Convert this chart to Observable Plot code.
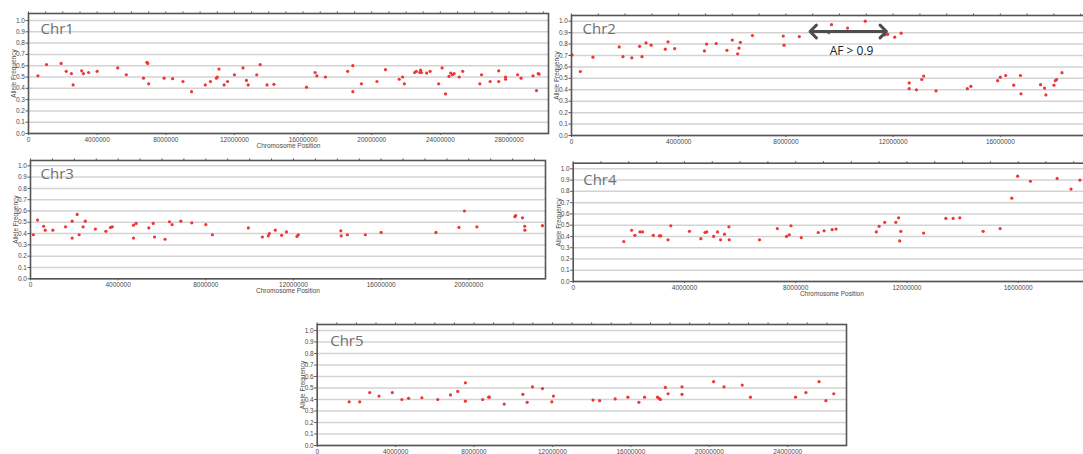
<!DOCTYPE html>
<html>
<head>
<meta charset="utf-8">
<script src="https://cdn.jsdelivr.net/npm/d3@7"></script>
<script src="https://cdn.jsdelivr.net/npm/@observablehq/plot@0.6"></script>
<style>
  html, body { margin: 0; padding: 0; background: #fff; overflow: hidden; width: 1083px; height: 454px; }
  #root { position: relative; width: 1083px; height: 454px; overflow: hidden; background: #fff; }
  .panel { position: absolute; }
  .panel svg { overflow: visible; }
</style>
</head>
<body>
<div id="root"></div>
<script>
// ---------- data (positions in Mb, allele frequencies) ----------
const yTicks = [0, 0.1, 0.2, 0.3, 0.4, 0.5, 0.6, 0.7, 0.8, 0.9, 1.0];

const chr1Name = "Chr1";
const chr1Ticks = [0, 4000000, 8000000, 12000000, 16000000, 20000000, 24000000, 28000000];
const chr1Pos = [0.55,1.05,1.9,2.2,2.5,2.6,3.1,3.2,3.5,4.0,5.2,5.7,6.7,6.9,6.95,7.0,7.9,8.4,9.0,9.5,10.3,10.6,10.95,11.0,11.1,11.4,11.6,12.0,12.5,12.7,12.8,13.3,13.5,13.9,14.3,16.2,16.7,16.8,17.3,18.6,18.9,18.9,19.4,20.3,20.8,21.6,21.8,21.9,22.5,22.6,22.8,22.85,22.9,23.2,23.4,23.9,24.1,24.3,24.5,24.6,24.7,24.8,25.1,25.3,26.3,26.4,26.9,27.4,27.4,27.8,27.8,28.5,28.7,29.4,29.6,29.7,29.75];
const chr1AF  = [0.51,0.61,0.62,0.55,0.53,0.43,0.555,0.53,0.54,0.55,0.58,0.52,0.49,0.63,0.62,0.44,0.49,0.485,0.46,0.37,0.43,0.46,0.49,0.50,0.57,0.43,0.46,0.52,0.58,0.47,0.43,0.52,0.61,0.43,0.435,0.41,0.54,0.51,0.50,0.55,0.60,0.37,0.44,0.46,0.565,0.48,0.50,0.44,0.54,0.55,0.54,0.56,0.54,0.535,0.55,0.44,0.58,0.35,0.505,0.535,0.52,0.53,0.50,0.55,0.44,0.52,0.46,0.555,0.46,0.50,0.48,0.52,0.49,0.51,0.38,0.53,0.525];

const chr2Name = "Chr2";
const chr2Ticks = [0, 4000000, 8000000, 12000000, 16000000];
const chr2Pos = [0.02,0.33,0.8,1.78,1.92,2.25,2.54,2.63,2.78,2.97,3.5,3.6,3.85,4.96,5.04,5.4,5.8,6.0,6.2,6.25,6.3,6.75,7.9,7.93,8.5,9.6,9.7,10.3,10.96,11.7,11.8,12.06,12.3,12.6,12.6,12.87,13.07,13.14,13.6,14.77,14.9,15.9,16.0,16.2,16.5,16.75,16.77,17.5,17.65,17.7,18.0,18.05,18.1,18.3];
const chr2AF  = [0.705,0.56,0.685,0.775,0.69,0.68,0.78,0.69,0.81,0.79,0.755,0.82,0.76,0.74,0.80,0.805,0.745,0.835,0.715,0.765,0.815,0.875,0.87,0.79,0.866,0.90,0.97,0.94,1.0,0.88,0.885,0.86,0.895,0.46,0.41,0.40,0.49,0.52,0.39,0.41,0.43,0.48,0.51,0.525,0.44,0.525,0.365,0.445,0.415,0.355,0.44,0.48,0.49,0.55];
// annotation on Chr2
const afArrowFrom = 8.9, afArrowTo = 11.75, afArrowLevel = 0.91;
const afLabel = "AF > 0.9", afLabelPos = 10.45, afLabelLevel = 0.74;

const chr3Name = "Chr3";
const chr3Ticks = [0, 4000000, 8000000, 12000000, 16000000, 20000000];
const chr3Pos = [0.13,0.32,0.6,0.67,1.02,1.6,1.9,1.9,2.13,2.22,2.4,2.5,2.96,3.44,3.65,3.73,4.7,4.7,4.82,5.4,5.6,5.66,6.14,6.34,6.46,6.86,7.36,8.0,8.3,9.94,10.58,10.85,10.9,11.17,11.46,11.68,12.16,12.22,14.16,14.18,14.46,15.28,16.0,18.5,19.55,19.8,20.37,22.1,22.14,22.45,22.55,22.56,23.36];
const chr3AF  = [0.39,0.52,0.465,0.43,0.43,0.46,0.51,0.36,0.57,0.39,0.46,0.51,0.44,0.42,0.455,0.46,0.475,0.36,0.49,0.45,0.49,0.37,0.35,0.505,0.48,0.51,0.495,0.48,0.39,0.45,0.37,0.38,0.40,0.43,0.385,0.415,0.375,0.39,0.425,0.38,0.39,0.39,0.41,0.41,0.455,0.60,0.46,0.55,0.56,0.54,0.465,0.43,0.47];

const chr4Name = "Chr4";
const chr4Ticks = [0, 4000000, 8000000, 12000000, 16000000];
const chr4Pos = [1.82,2.1,2.22,2.4,2.49,2.88,3.1,3.15,3.41,3.51,4.18,4.59,4.74,4.8,5.05,5.19,5.3,5.44,5.6,5.61,6.7,7.34,7.67,7.77,7.83,8.2,8.81,9.02,9.31,9.45,10.9,11.0,11.2,11.6,11.7,11.74,11.78,12.6,13.4,13.66,13.9,14.74,15.35,15.77,15.98,16.44,17.4,17.9,18.22];
const chr4AF  = [0.355,0.455,0.41,0.44,0.44,0.41,0.405,0.405,0.37,0.495,0.445,0.38,0.435,0.44,0.40,0.44,0.37,0.42,0.485,0.37,0.37,0.47,0.40,0.415,0.495,0.39,0.435,0.45,0.46,0.465,0.44,0.49,0.525,0.525,0.565,0.36,0.445,0.43,0.56,0.56,0.565,0.445,0.47,0.74,0.935,0.89,0.915,0.82,0.90];

const chr5Name = "Chr5";
const chr5Ticks = [0, 4000000, 8000000, 12000000, 16000000, 20000000, 24000000];
const chr5Pos = [1.63,2.17,2.68,3.15,3.83,4.32,4.66,5.34,6.15,6.8,7.17,7.56,7.56,8.44,8.75,8.78,9.54,10.49,10.71,10.98,11.49,11.97,12.05,14.07,14.41,15.2,15.85,16.41,16.7,17.36,17.44,17.51,17.76,17.9,18.61,18.61,20.22,20.75,21.68,22.1,24.4,24.93,25.6,25.95,26.35];
const chr5AF  = [0.38,0.38,0.46,0.43,0.46,0.40,0.41,0.415,0.40,0.44,0.47,0.545,0.385,0.40,0.42,0.42,0.36,0.445,0.375,0.51,0.495,0.38,0.43,0.395,0.39,0.405,0.42,0.375,0.42,0.42,0.41,0.40,0.505,0.45,0.51,0.445,0.555,0.51,0.525,0.42,0.42,0.46,0.555,0.39,0.45];

// ---------- drawing ----------
const root = document.getElementById("root");

function makePanel(cfg) {
  const data = cfg.pos.map((p, i) => ({pos: p * 1e6, af: cfg.af[i]}));
  const marks = [
    Plot.gridY(yTicks, {stroke: "#d3d3d3", strokeOpacity: 1, strokeWidth: 1.5}),
    Plot.axisX(d3.range(0, cfg.length * 1e6, 1e6), {anchor: "top", tickSize: 2.5, tickFormat: () => "", label: null, stroke: "#555"}),
    Plot.axisX(cfg.xTicks, {
      anchor: "bottom", tickSize: 2, tickPadding: 1.5, tickFormat: d => String(d),
      label: cfg.xLabel ? "Chromosome Position" : null, labelAnchor: "center", labelOffset: 14, labelArrow: "none",
      fontSize: 6.5, stroke: "#555"
    }),
    Plot.axisY(yTicks, {
      anchor: "left", tickSize: 2.5, tickPadding: 1, tickFormat: d => d.toFixed(1),
      label: "Allele Frequency", labelAnchor: "center", labelOffset: 17, labelArrow: "none",
      fontSize: 6.5, stroke: "#555"
    }),
    Plot.dot(data, {x: "pos", y: "af", r: 1.6, fill: "#f03535", stroke: "none"}),
    Plot.frame({stroke: "#555", strokeWidth: 1.6}),
    Plot.text([cfg.name], {
      frameAnchor: "top-left", dx: cfg.nameDx, dy: cfg.nameDy, lineAnchor: "top", textAnchor: "start",
      fontSize: 15, fontFamily: "Open Sans, Noto Sans, sans-serif", fill: "#707070"
    })
  ];
  if (cfg.extra) marks.push(...cfg.extra);
  const chart = Plot.plot({
    width: cfg.width,
    height: cfg.height,
    marginLeft: cfg.mL, marginRight: cfg.mR, marginTop: cfg.mT, marginBottom: cfg.mB,
    x: {domain: [0, cfg.length * 1e6]},
    y: {domain: [0, cfg.yMax]},
    style: {fontFamily: "Liberation Sans, Arial, sans-serif", fontSize: "6.5px", color: "#4a4a4a", background: "transparent", overflow: "visible"},
    marks
  });
  const div = document.createElement("div");
  div.className = "panel";
  div.style.left = cfg.left + "px";
  div.style.top = cfg.top + "px";
  div.style.width = cfg.width + "px";
  div.style.height = cfg.height + "px";
  chart.style.maxWidth = "none";
  div.appendChild(chart);
  root.appendChild(div);
}

const arrowData = [
  {x1: (afArrowFrom + afArrowTo) / 2 * 1e6, x2: afArrowFrom * 1e6, y: afArrowLevel},
  {x1: (afArrowFrom + afArrowTo) / 2 * 1e6, x2: afArrowTo * 1e6, y: afArrowLevel}
];
const chr2Extra = [
  Plot.arrow(arrowData, {x1: "x1", x2: "x2", y1: "y", y2: "y", stroke: "#4d4d4d", strokeWidth: 3, headLength: 4.5, headAngle: 90}),
  Plot.text([{x: afLabelPos * 1e6, y: afLabelLevel, t: afLabel}], {
    x: "x", y: "y", text: "t", fontSize: 12, fontFamily: "Open Sans, Noto Sans, sans-serif", fill: "#222", textAnchor: "middle"
  })
];

makePanel({name: chr1Name, pos: chr1Pos, af: chr1AF, xTicks: chr1Ticks, length: 30.3, xLabel: true,
  left: 0, top: 0, width: 550, height: 150, mL: 28, mR: 2, mT: 13, mB: 17, yMax: 1.062, nameDx: 12, nameDy: 10});
makePanel({name: chr2Name, pos: chr2Pos, af: chr2AF, xTicks: chr2Ticks, length: 19.7, xLabel: false,
  left: 548, top: 0, width: 553, height: 150, mL: 23, mR: 2, mT: 15, mB: 15, yMax: 1.05, nameDx: 11, nameDy: 8, extra: chr2Extra});
makePanel({name: chr3Name, pos: chr3Pos, af: chr3AF, xTicks: chr3Ticks, length: 23.5, xLabel: true,
  left: 0, top: 150, width: 547, height: 150, mL: 30, mR: 2, mT: 10, mB: 21.7, yMax: 1.047, nameDx: 10, nameDy: 8});
makePanel({name: chr4Name, pos: chr4Pos, af: chr4AF, xTicks: chr4Ticks, length: 18.6, xLabel: true,
  left: 548, top: 150, width: 544, height: 150, mL: 24.7, mR: 2, mT: 12.7, mB: 19, yMax: 1.05, nameDx: 10, nameDy: 11});
makePanel({name: chr5Name, pos: chr5Pos, af: chr5AF, xTicks: chr5Ticks, length: 27, xLabel: true,
  left: 290, top: 310, width: 558, height: 154, mL: 26.7, mR: 2, mT: 14, mB: 19, yMax: 1.052, nameDx: 13, nameDy: 11});
</script>
</body>
</html>
